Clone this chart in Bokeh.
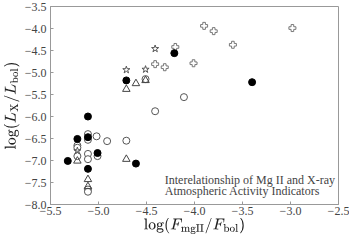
from bokeh.plotting import figure
from bokeh.models import FixedTicker, CustomJSTickFormatter, Range1d, Label
from bokeh.embed import file_html
from bokeh.resources import INLINE

# ---- data ----
filled_x = [-5.11, -5.22, -5.32, -5.01, -5.11, -4.71, -4.61, -4.21, -3.40, -5.11]
filled_y = [-6.00, -6.51, -7.01, -6.83, -7.19, -5.18, -7.07, -4.56, -5.22, -6.47]

open_x = [-5.11, -5.11, -5.02, -4.91, -5.22, -5.22, -5.22, -5.11, -5.11, -5.01,
          -5.11, -5.11, -4.71, -4.41, -4.11, -4.51]
open_y = [-6.40, -6.53, -6.45, -6.56, -6.66, -6.71, -6.90, -6.85, -6.97, -6.90,
          -7.66, -7.71, -6.55, -5.88, -5.56, -5.15]

tri_x = [-5.22, -5.11, -5.11, -4.71, -4.61, -4.51, -4.71]
tri_y = [-7.01, -7.43, -7.59, -5.38, -5.25, -5.18, -6.97]

star_x = [-5.22, -4.71, -4.51, -4.41]
star_y = [-6.78, -4.94, -4.93, -4.46]

plus_x = [-4.20, -4.41, -4.31, -3.90, -3.80, -2.98, -3.60, -4.01]
plus_y = [-4.42, -4.81, -4.88, -3.94, -4.06, -3.99, -4.37, -4.79]

x_ticks = [-5.5, -5.0, -4.5, -4.0, -3.5, -3.0, -2.5]
y_ticks = [-8.0, -7.5, -7.0, -6.5, -6.0, -5.5, -5.0, -4.5, -4.0, -3.5]

note_lines = ["Interelationship of Mg II and X-ray", "Atmospheric Activity Indicators"]

FONT = "Liberation Serif"

p = figure(width=349, height=237, output_backend="svg", toolbar_location=None,
           x_range=Range1d(-5.5, -2.5), y_range=Range1d(-8.0, -3.5),
           min_border_left=36, min_border_right=11, min_border_top=6, min_border_bottom=28)
p.background_fill_color = "white"
p.border_fill_color = "white"
p.outline_line_color = "#999999"
p.outline_line_width = 1
p.xgrid.visible = False
p.ygrid.visible = False

fmt = CustomJSTickFormatter(code="return tick.toFixed(1).replace('-', '\\u2212');")
for ax, ticks in ((p.xaxis, x_ticks), (p.yaxis, y_ticks)):
    ax.ticker = FixedTicker(ticks=ticks)
    ax.formatter = fmt
    ax.minor_tick_line_color = None
    ax.major_tick_in = 3
    ax.major_tick_out = 0
    ax.major_tick_line_color = "#999999"
    ax.axis_line_color = "#999999"
    ax.major_label_text_font = FONT
    ax.major_label_text_font_size = "12px"
    ax.major_label_text_color = "#444444"
    ax.axis_label_text_font = FONT
    ax.axis_label_text_font_size = "15px"
    ax.axis_label_text_font_style = "normal"
    ax.axis_label_text_color = "#222222"

p.xaxis.major_label_standoff = 2
p.xaxis.axis_label_standoff = 0
p.yaxis.major_label_standoff = 4
p.yaxis.axis_label_standoff = 2
p.xaxis.axis_label = r"$$\log(F_\mathrm{mgII}/F_\mathrm{bol})$$"
p.yaxis.axis_label = r"$$\log(L_\mathrm{X}/L_\mathrm{bol})$$"

p.scatter(open_x, open_y, marker="circle", size=7, fill_color="white",
          line_color="#555555", line_width=1)
p.scatter(tri_x, tri_y, marker="triangle", size=7.5, fill_color=None,
          line_color="#444444", line_width=1)
p.scatter(star_x, star_y, marker="star", size=7.5, fill_color=None,
          line_color="#555555", line_width=1)
p.scatter(plus_x, plus_y, marker="plus", size=7, fill_color="white",
          line_color="#777777", line_width=1)
p.scatter(filled_x, filled_y, marker="circle", size=7, fill_color="black",
          line_color="black")

p.add_layout(Label(x=-4.31, y=-7.45, text=note_lines[0], text_font=FONT,
                   text_font_size="12px", text_color="#444444", text_baseline="middle"))
p.add_layout(Label(x=-4.31, y=-7.69, text=note_lines[1], text_font=FONT,
                   text_font_size="12px", text_color="#444444", text_baseline="middle"))

open("out.html", "w").write(file_html(p, INLINE))
